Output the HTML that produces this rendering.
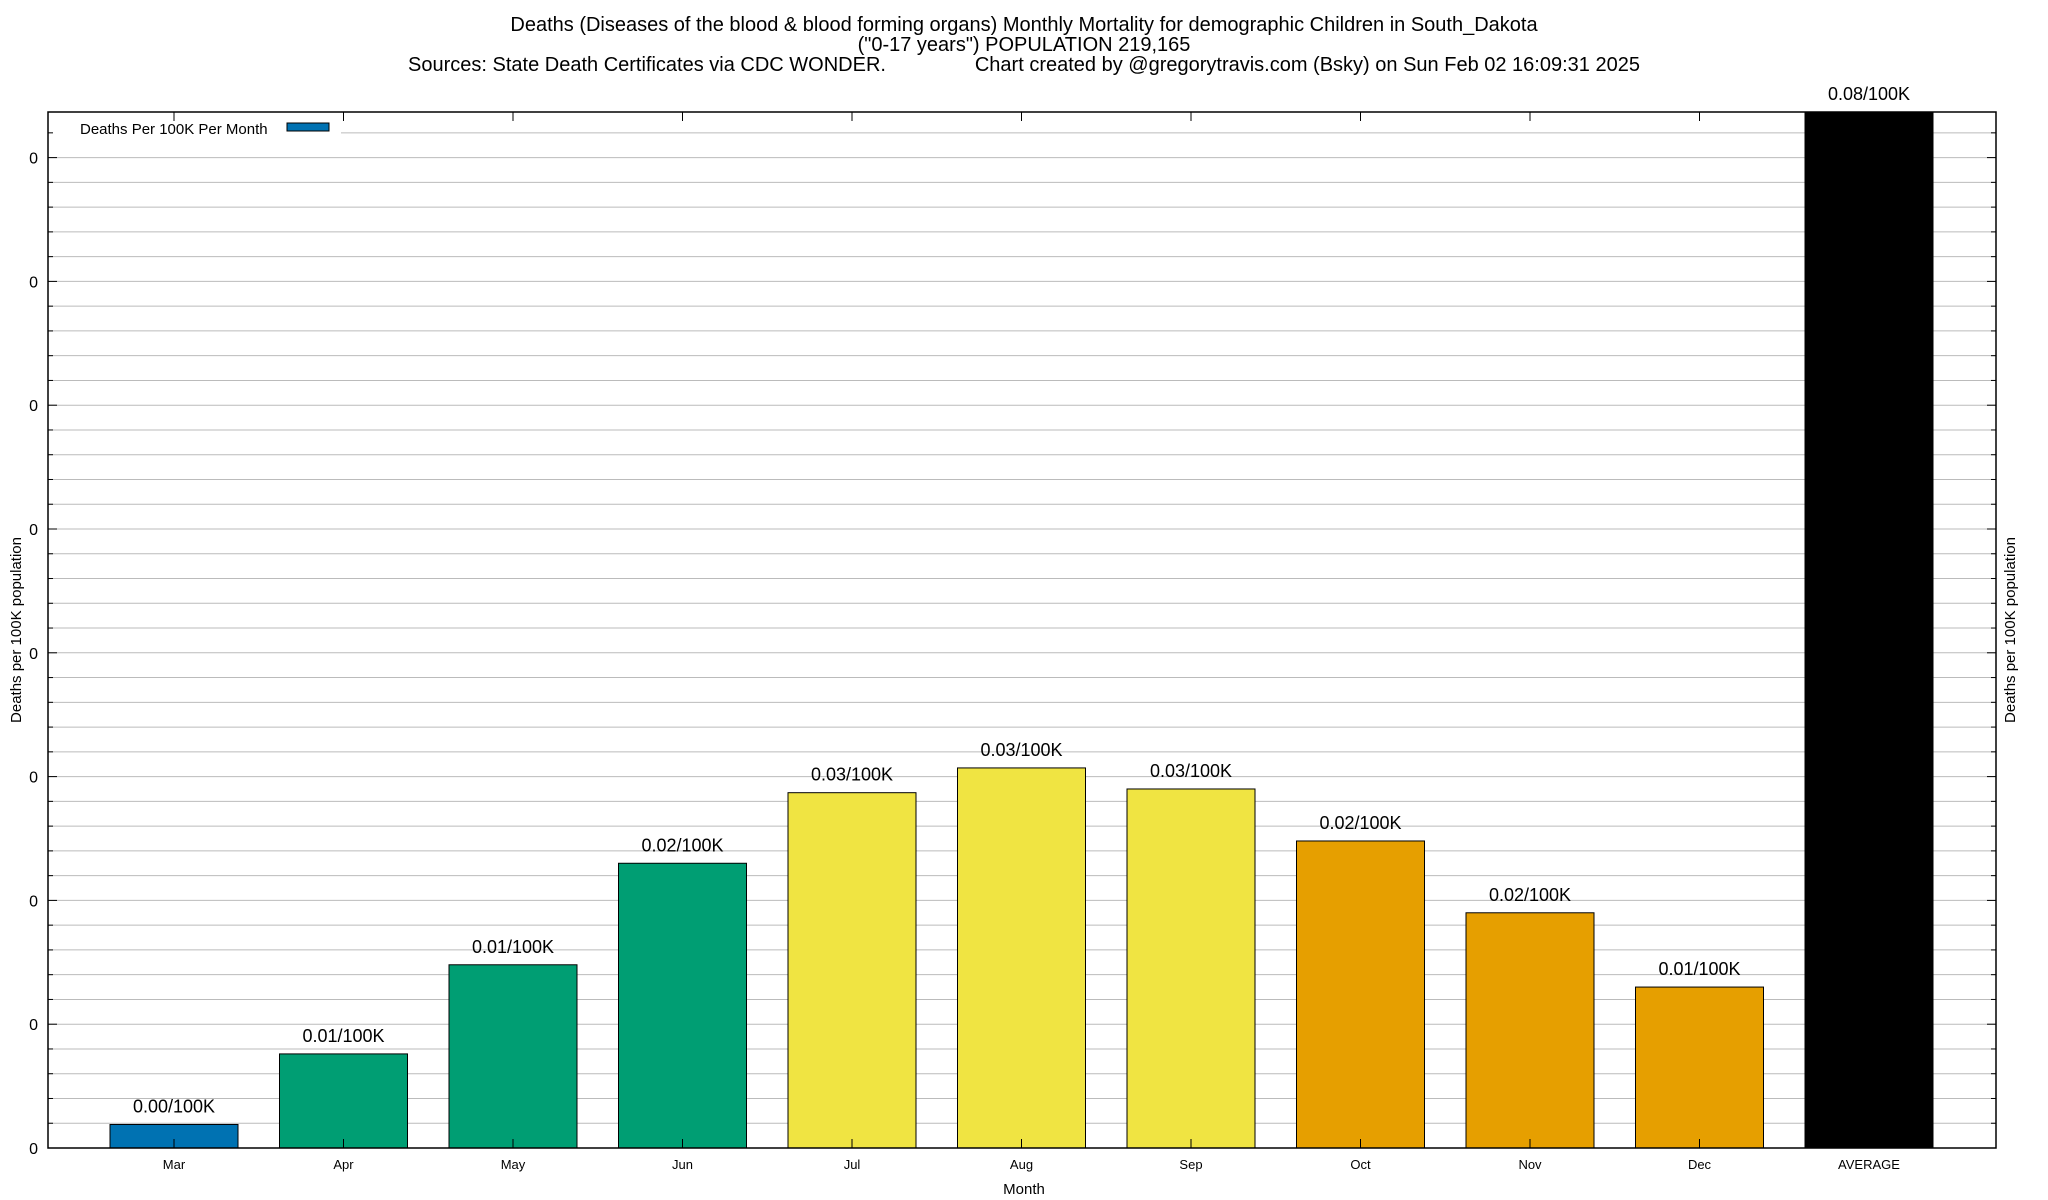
<!DOCTYPE html>
<html><head><meta charset="utf-8"><style>
html,body{margin:0;padding:0;background:#fff;}
svg{display:block;font-family:"Liberation Sans",Arial,sans-serif;}
</style></head><body>
<svg id="chart" width="2048" height="1200" viewBox="0 0 2048 1200">
<text x="1024" y="31" font-size="20" text-anchor="middle">Deaths (Diseases of the blood &amp; blood forming organs) Monthly Mortality for demographic Children in South_Dakota</text>
<text x="1024" y="51" font-size="20" text-anchor="middle">("0-17 years") POPULATION 219,165</text>
<text x="1024" y="71" font-size="20" text-anchor="middle" xml:space="preserve">Sources: State Death Certificates via CDC WONDER.                Chart created by @gregorytravis.com (Bsky) on Sun Feb 02 16:09:31 2025</text>
<g id="grid"></g>
<g id="bars"></g>
<rect x="49" y="113" width="292" height="27" fill="#fff"/>
<text x="80" y="134" font-size="15">Deaths Per 100K Per Month</text>
<rect x="287" y="123" width="42" height="8" fill="#0072b2" stroke="#000" stroke-width="1"/>
<rect x="48" y="112" width="1948" height="1036" fill="none" stroke="#000" stroke-width="1.5"/>
<g id="axes"></g>
<text x="1024" y="1194" font-size="15" text-anchor="middle">Month</text>
<text transform="translate(21,630) rotate(-90)" font-size="15" text-anchor="middle">Deaths per 100K population</text>
<text transform="translate(2015,630) rotate(-90)" font-size="15" text-anchor="middle">Deaths per 100K population</text>
</svg>
<script>
const categories = ["Mar","Apr","May","Jun","Jul","Aug","Sep","Oct","Nov","Dec","AVERAGE"];
const values = [0.0019,0.0076,0.0148,0.0230,0.0287,0.0307,0.0290,0.0248,0.0190,0.0130,0.086];
const valueLabels = ["0.00/100K","0.01/100K","0.01/100K","0.02/100K","0.03/100K","0.03/100K","0.03/100K","0.02/100K","0.02/100K","0.01/100K","0.08/100K"];
const barColors = ["#0072b2","#009e73","#009e73","#009e73","#f0e442","#f0e442","#f0e442","#e69f00","#e69f00","#e69f00","#000000"];
const yTicks = [0,0.01,0.02,0.03,0.04,0.05,0.06,0.07,0.08];
const yTickLabels = ["0","0","0","0","0","0","0","0","0"];

const NS="http://www.w3.org/2000/svg";
const L=48,R=1996,T=112,B=1148;
const yMax=(B-T)/123.8*0.01;
function y(v){return B-(v/yMax)*(B-T);}
function xc(i){return 174+i*169.5;}
function mk(tag,attrs,parent){const e=document.createElementNS(NS,tag);for(const k in attrs)e.setAttribute(k,attrs[k]);parent.appendChild(e);return e;}
const grid=document.getElementById('grid'),bars=document.getElementById('bars'),axes=document.getElementById('axes');
for(let k=1;k*0.002<yMax;k++){
  const v=k*0.002,yy=y(v);
  const ln=mk('line',{x1:L,x2:R,y1:yy,y2:yy,stroke:'#bbb','stroke-width':1},grid);
  
  
  const major=(k%5===0);
  const t1=mk('line',{x1:L,x2:L+(major?9:5),y1:yy,y2:yy,stroke:'#000'},axes);
  
  
  const t2=mk('line',{x1:R,x2:R-(major?9:5),y1:yy,y2:yy,stroke:'#000'},axes);
  
  
}
yTicks.forEach((v,i)=>{
  const t=mk('text',{x:38,y:y(v)+6,'font-size':16,'text-anchor':'end'},axes);
  t.textContent=yTickLabels[i];
  
  
});
categories.forEach((c,i)=>{
  const cx=xc(i),w=128;
  const top=Math.max(y(values[i]),T);
  const r=mk('rect',{x:cx-w/2,y:top,width:w,height:B-top,fill:barColors[i],stroke:'#000','stroke-width':1},bars);
  
  
  const lbl=mk('text',{x:cx,y:top-12,'font-size':18,'text-anchor':'middle'},bars);
  lbl.textContent=valueLabels[i];
  
  
  const xl=mk('text',{x:cx,y:1169,'font-size':13,'text-anchor':'middle'},axes);
  xl.textContent=c;
  
  
  const tb=mk('line',{x1:cx,x2:cx,y1:B,y2:B-9,stroke:'#000'},axes);
  
  
  const tt=mk('line',{x1:cx,x2:cx,y1:T,y2:T+9,stroke:'#000'},axes);
  
  
});
</script>
</body></html>
